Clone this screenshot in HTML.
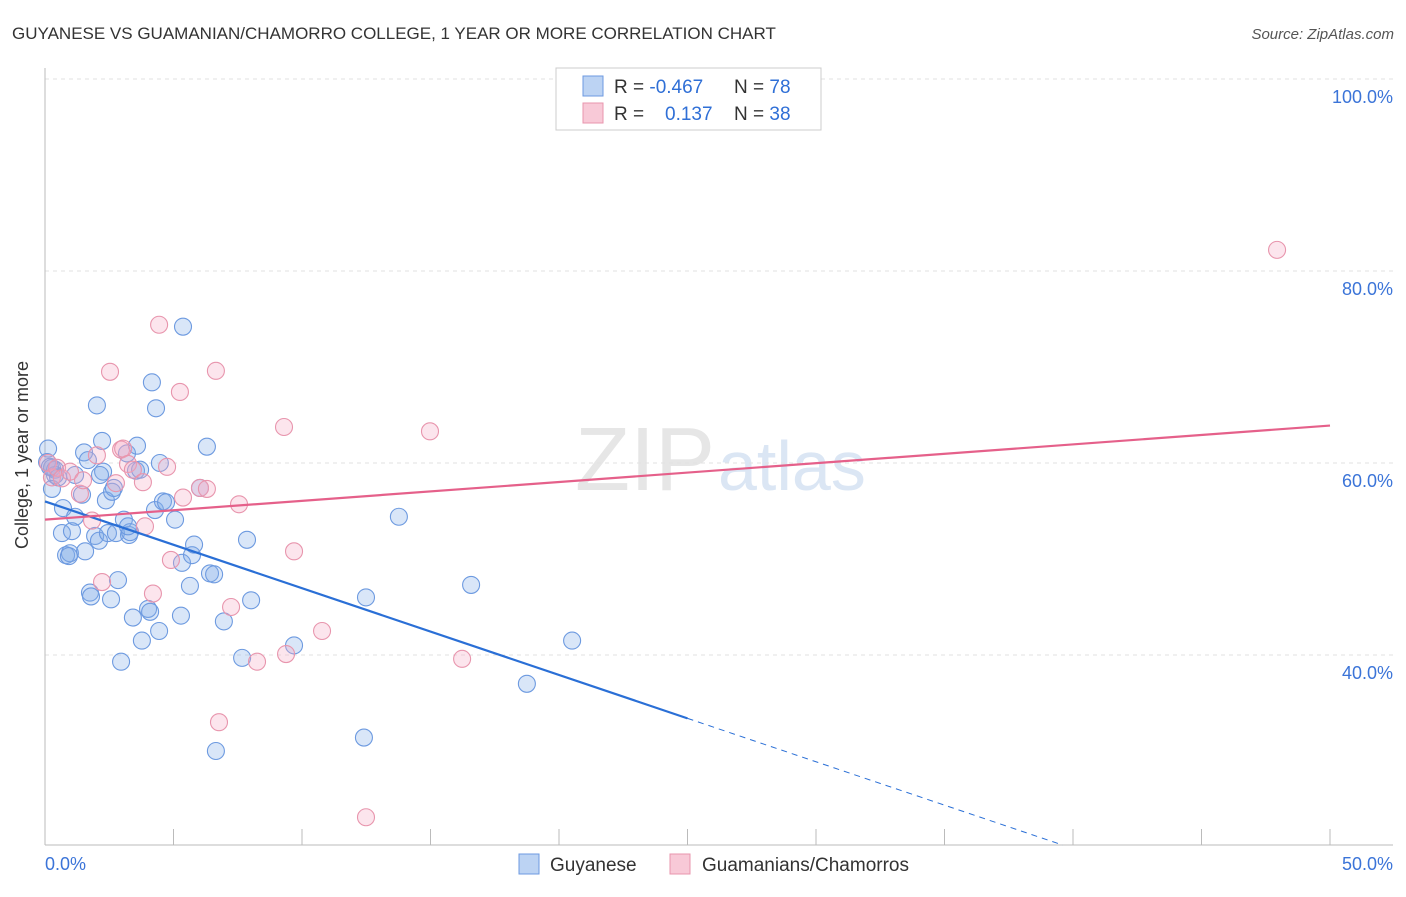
<!DOCTYPE html>
<html><head><meta charset="utf-8"><style>
body{margin:0;background:#fff;font-family:"Liberation Sans",sans-serif}
svg text{font-family:"Liberation Sans",sans-serif}
</style></head><body>
<svg id="chart" width="1406" height="892">
<text x="12" y="39" font-size="17" fill="#333">GUYANESE VS GUAMANIAN/CHAMORRO COLLEGE, 1 YEAR OR MORE CORRELATION CHART</text>
<text x="1394" y="39" font-size="15" fill="#555" font-style="italic" text-anchor="end">Source: ZipAtlas.com</text>
<text x="715" y="490" font-size="90" fill="#e6e6e6" text-anchor="end" font-family="Liberation Serif">ZIP</text>
<text x="718" y="490" font-size="70" fill="#dbe6f4">atlas</text>
<g id="grid"></g><g id="axes"></g><g id="pts"></g><g id="lines"></g>
<text x="28" y="455" font-size="18" fill="#333" text-anchor="middle" transform="rotate(-90 28 455)">College, 1 year or more</text>
<g>
<rect x="556" y="68" width="265" height="62" fill="#fff" stroke="#ccc"/>
<rect x="583" y="76" width="20" height="20" fill="#bcd3f3" stroke="#6d9ae0"/>
<rect x="583" y="103" width="20" height="20" fill="#f8c9d7" stroke="#e895ad"/>
<text x="614" y="93" font-size="19" fill="#333">R = <tspan fill="#2f6fd6">-0.467</tspan></text>
<text x="734" y="93" font-size="19" fill="#333">N = <tspan fill="#2f6fd6">78</tspan></text>
<text x="614" y="120" font-size="19" fill="#333">R = </text><text x="665" y="120" font-size="19" fill="#2f6fd6">0.137</text>
<text x="734" y="120" font-size="19" fill="#333">N = <tspan fill="#2f6fd6">38</tspan></text>
</g>
<g>
<rect x="519" y="854" width="20" height="20" fill="#bcd3f3" stroke="#6d9ae0"/>
<text x="550" y="871" font-size="19" fill="#333">Guyanese</text>
<rect x="670" y="854" width="20" height="20" fill="#f8c9d7" stroke="#e895ad"/>
<text x="702" y="871" font-size="19" fill="#333">Guamanians/Chamorros</text>
</g>
</svg>
<script>
const blueX=[.12,.08,.27,.39,.39,.27,.70,.66,.82,.97,1.05,1.17,1.17,1.44,1.52,1.67,1.75,1.79,1.95,2.02,2.10,2.22,2.26,2.37,2.45,2.57,2.61,2.68,2.76,2.84,2.96,3.07,3.19,3.27,3.31,3.42,3.58,3.54,3.77,4.01,4.09,4.16,4.28,4.32,4.44,4.47,4.59,4.71,5.06,5.29,5.37,5.33,5.64,5.72,5.80,6.03,6.30,6.42,6.58,6.65,6.96,7.67,7.86,8.02,9.69,12.41,12.49,13.77,16.58,18.75,20.51,.19,.51,1.56,.93,3.23,2.14,3.70];
const blueY=[61.5,60.1,59.5,59.3,58.75,57.3,55.3,52.7,50.4,50.6,52.9,54.4,58.75,56.7,61.1,60.3,46.5,46.1,52.4,66.0,51.9,62.3,59.1,56.1,52.7,45.8,57.0,57.4,52.7,47.8,39.3,54.1,61.0,52.5,52.8,43.9,61.8,59.2,41.5,44.8,44.5,68.4,55.1,65.7,42.5,60.0,56.0,55.9,54.1,44.1,74.2,49.6,47.2,50.4,51.5,57.4,61.7,48.5,48.4,30.0,43.5,39.7,52.0,45.7,41.0,31.4,46.0,54.4,47.3,37.0,41.5,59.6,58.5,50.8,50.3,53.4,58.75,59.3];
const pinkX=[.12,.27,.47,.66,.97,1.36,1.48,1.83,2.02,2.22,2.53,2.76,2.96,3.04,3.23,3.42,3.81,3.89,4.20,4.44,4.75,4.90,5.25,5.37,6.03,6.30,6.65,6.77,7.24,7.55,8.25,9.30,9.38,9.69,10.78,12.49,14.98,16.23,47.94];
const pinkY=[60.0,58.5,59.5,58.4,59.1,56.8,58.2,54.0,60.8,47.6,69.5,57.9,61.4,61.5,59.9,59.3,58.0,53.4,46.4,74.4,59.6,49.9,67.4,56.4,57.4,57.3,69.6,33.0,45.0,55.7,39.3,63.75,40.1,50.8,42.5,23.1,63.3,39.6,82.2];
const blueTrend=[56.0,33.4];const blueSolidEnd=25.0;
const pinkTrend=[54.1,63.9];
const yTicks=[100,80,60,40];const yTickLabels=["100.0%","80.0%","60.0%","40.0%"];
const xTicks=[0,5,10,15,20,25,30,35,40,45,50];
const NS="http://www.w3.org/2000/svg";
const sx=v=>45+v*25.7, sy=v=>79+(100-v)*9.6;
function mk(tag,attrs,parent){const e=document.createElementNS(NS,tag);for(const k in attrs)e.setAttribute(k,attrs[k]);document.getElementById(parent).appendChild(e);return e;}
yTicks.forEach((t,i)=>{
 const l=mk('line',{x1:45,x2:1393,y1:sy(t),y2:sy(t),stroke:'#e2e2e2','stroke-dasharray':'4,4'},'grid');
 
 
 const tx=mk('text',{x:1393,y:sy(t)+24,'font-size':18,fill:'#3b74d8','text-anchor':'end'},'grid');tx.textContent=yTickLabels[i];
 
 
});
const ya=mk('line',{x1:45,x2:45,y1:68,y2:845,stroke:'#bbb'},'axes');


const xa=mk('line',{x1:45,x2:1393,y1:845,y2:845,stroke:'#bbb'},'axes');


xTicks.forEach(t=>{const l=mk('line',{x1:sx(t),x2:sx(t),y1:829,y2:845,stroke:'#bbb'},'axes');
 
 });
let a=mk('text',{x:45,y:870,'font-size':18,fill:'#3b74d8'},'axes');a.textContent='0.0%';


a=mk('text',{x:1393,y:870,'font-size':18,fill:'#3b74d8','text-anchor':'end'},'axes');a.textContent='50.0%';


blueX.forEach((x,i)=>{const c=mk('circle',{cx:sx(x),cy:sy(blueY[i]),r:8.5,fill:'rgba(130,172,232,0.3)',stroke:'#6d9ae0','stroke-width':1.1},'pts');
 
 });
pinkX.forEach((x,i)=>{const c=mk('circle',{cx:sx(x),cy:sy(pinkY[i]),r:8.5,fill:'rgba(244,170,196,0.3)',stroke:'#e895ad','stroke-width':1.1},'pts');
 
 });
const by=x=>blueTrend[0]+(blueTrend[1]-blueTrend[0])*x/blueSolidEnd;
const xEnd=(20.2-blueTrend[0])/(blueTrend[1]-blueTrend[0])*blueSolidEnd;
let l=mk('line',{x1:sx(0),y1:sy(by(0)),x2:sx(blueSolidEnd),y2:sy(by(blueSolidEnd)),stroke:'#2a6fd6','stroke-width':2.2},'lines');


l=mk('line',{x1:sx(blueSolidEnd),y1:sy(by(blueSolidEnd)),x2:sx(xEnd),y2:sy(by(xEnd)),stroke:'#2a6fd6','stroke-width':1,'stroke-dasharray':'6,5'},'lines');


l=mk('line',{x1:sx(0),y1:sy(pinkTrend[0]),x2:sx(50),y2:sy(pinkTrend[1]),stroke:'#e5608a','stroke-width':2.2},'lines');


</script>
</body></html>
